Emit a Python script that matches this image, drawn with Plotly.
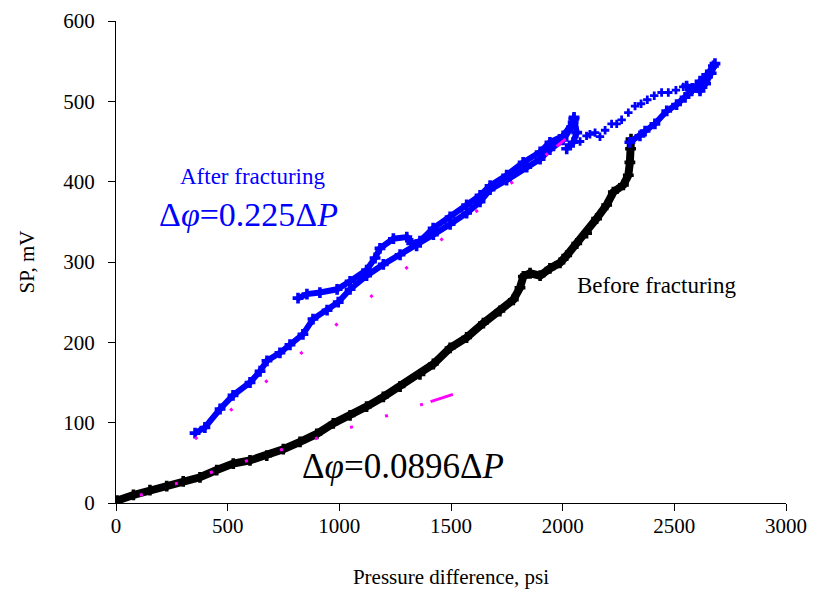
import plotly.graph_objects as go

# ---- data ----
before_x = [0, 5, 78, 152, 227, 301, 376, 451, 525, 600, 675, 749, 824, 899, 973, 1048,
            1122, 1197, 1272, 1361, 1421, 1496, 1570, 1645, 1719, 1779, 1809, 1824, 1854,
            1899, 1943, 1988, 2018, 2063, 2107, 2152, 2197, 2227, 2272, 2294, 2301, 2304, 2306]
before_y = [0, 3, 10, 16, 21, 27, 32, 41, 49, 53, 59, 67, 76, 86, 99, 109,
            120, 132, 145, 160, 173, 193, 206, 224, 239, 253, 268, 282, 286,
            283, 292, 299, 308, 323, 336, 354, 371, 387, 396, 408, 424, 441, 453]

# After fracturing, dense branches (None separates branches)
after_x = [354, 398, 466, 524, 600, 645, 676, 734, 779, 837, 882, 945, 995, 1048, 1122, 1197,
           1272, 1346, 1421, 1496, 1570, 1630, 1675, 1749, 1839, 1899, 1943, 2002, 2040, 2050,
           None,
           815, 855, 913, 990, 1048, 1122, 1160, 1182, 1242, 1302, 1324, 1361, 1420, 1496,
           1570, 1630, 1675, 1749, 1823, 1899, 1943, 2002, 2047, 2051, 2063, 2047, 2018,
           None,
           2301, 2346, 2369, 2413, 2466, 2510, 2548, 2578, 2615, 2645, 2675, 2682, 2665,
           2640, 2615, 2580, 2555]
after_y = [87, 94, 117, 134, 150, 164, 177, 187, 197, 210, 229, 240, 250, 266, 283, 297,
           309, 320, 334, 347, 361, 375, 390, 402, 418, 428, 440, 452, 468, 478,
           None,
           255, 260, 262, 266, 276, 290, 305, 317, 329, 331, 323, 326, 342, 356,
           371, 383, 395, 408, 424, 437, 449, 457, 474, 480, 461, 449, 441,
           None,
           449, 457, 463, 472, 488, 496, 505, 513, 525, 533, 544, 547, 535,
           522, 513, 516, 519]

# After fracturing, sparse return points
after_sparse_x = [2078, 2107, 2122, 2145, 2167, 2190, 2219, 2242, 2264, 2294, 2324, 2351,
                  2379, 2410, 2443, 2473, 2507, 2540]
after_sparse_y = [450, 457, 459, 461, 456, 464, 472, 472, 477, 486, 494, 497,
                  502, 507, 511, 511, 514, 518]

# linear fits
fit_before_slope = 0.0896
fit_before_x = [107, 1510]
fit_after_slope = 0.225
fit_after_x = [354, 2013]

x_ticks = [0, 500, 1000, 1500, 2000, 2500, 3000]
y_ticks = [0, 100, 200, 300, 400, 500, 600]

# ---- styling helpers ----
FONT = "Liberation Serif, Times New Roman, serif"
X_RANGE = [0, 3000]
Y_RANGE = [0, 600]
M_L, M_R, M_T, M_B = 108, 54, 13, 105
PLOT_W = 832 - M_L - M_R
PLOT_H = 600 - M_T - M_B


def dash_pattern(slope, x0, x1, step, dash_start):
    """dot every `step` psi from x0, then a final dash from dash_start to x1"""
    sx = PLOT_W / (X_RANGE[1] - X_RANGE[0])
    sy = PLOT_H / (Y_RANGE[1] - Y_RANGE[0])
    per = (sx ** 2 + (slope * sy) ** 2) ** 0.5
    dot = 3
    parts = []
    pos = x0
    while pos + step < dash_start:
        parts += [dot, step * per - dot]
        pos += step
    gap = (dash_start - pos) * per - dot
    parts += [dot, gap, (x1 - dash_start) * per, 50]
    return ",".join(f"{p:.1f}px" for p in parts)


fig = go.Figure()

fig.add_trace(go.Scatter(
    x=before_x, y=before_y, mode="lines+markers",
    line=dict(color="black", width=8),
    marker=dict(symbol="cross", size=9, color="black"),
    showlegend=False, hoverinfo="skip"))

fig.add_trace(go.Scatter(
    x=after_x, y=after_y, mode="lines+markers",
    line=dict(color="#0000ff", width=6),
    marker=dict(symbol="cross", size=9, color="#0000ff"),
    connectgaps=False, showlegend=False, hoverinfo="skip"))

fig.add_trace(go.Scatter(
    x=after_sparse_x, y=after_sparse_y, mode="markers",
    marker=dict(symbol="cross", size=7, color="#0000ff"),
    showlegend=False, hoverinfo="skip"))

fig.add_trace(go.Scatter(
    x=fit_before_x, y=[fit_before_slope * v for v in fit_before_x], mode="lines",
    line=dict(color="#ff00ff", width=3,
              dash=dash_pattern(fit_before_slope, fit_before_x[0], fit_before_x[1], 157, 1410)),
    showlegend=False, hoverinfo="skip"))

fig.add_trace(go.Scatter(
    x=fit_after_x, y=[fit_after_slope * v for v in fit_after_x], mode="lines",
    line=dict(color="#ff00ff", width=3,
              dash=dash_pattern(fit_after_slope, fit_after_x[0], fit_after_x[1], 157, 1973)),
    showlegend=False, hoverinfo="skip"))

annotations = [
    dict(x=278, y=407, text="After fracturing", font=dict(size=23, color="#0000ff")),
    dict(x=184, y=359, text="Δ<i>φ</i>=0.225Δ<i>P</i>", font=dict(size=34, color="#0000ff")),
    dict(x=2055, y=271, text="Before fracturing", font=dict(size=23, color="black")),
    dict(x=824, y=46, text="Δ<i>φ</i>=0.0896Δ<i>P</i>", font=dict(size=35, color="black")),
]
for a in annotations:
    a.update(xref="x", yref="y", xanchor="left", yanchor="middle", showarrow=False)
    a["font"]["family"] = FONT

axis_common = dict(
    showline=True, linecolor="black", linewidth=1, mirror=False,
    showgrid=False, zeroline=False, automargin=False,
    ticks="outside", ticklen=7, tickcolor="black", tickwidth=1,
    ticklabeloverflow="allow",
    tickfont=dict(family=FONT, size=21, color="black"),
)

fig.update_layout(
    width=832, height=600,
    margin=dict(l=M_L, r=M_R, t=M_T, b=M_B),
    paper_bgcolor="white", plot_bgcolor="white",
    font=dict(family=FONT, color="black"),
    annotations=annotations,
    xaxis=dict(range=X_RANGE, tickvals=x_ticks, ticktext=[str(v) for v in x_ticks],
               ticklabelstandoff=-3,
               title=dict(text="Pressure difference, psi", font=dict(family=FONT, size=21),
                          standoff=32),
               **axis_common),
    yaxis=dict(range=Y_RANGE, tickvals=y_ticks, ticktext=[str(v) for v in y_ticks],
               ticklabelstandoff=9,
               title=dict(text="SP, mV", font=dict(family=FONT, size=21), standoff=22),
               **axis_common),
)

fig.write_html("out.html")
